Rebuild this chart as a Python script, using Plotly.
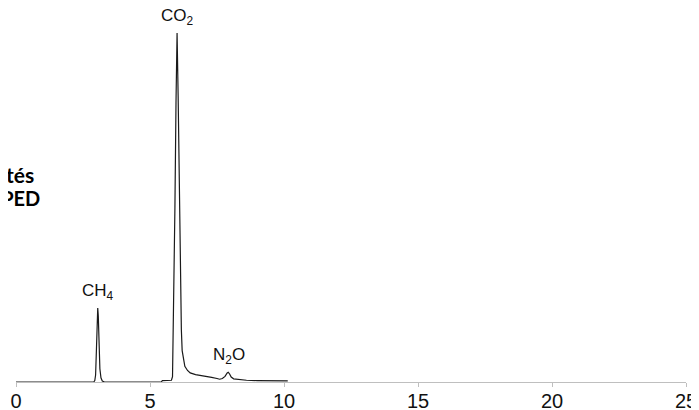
import plotly.graph_objects as go

# Chromatogram (time in min, intensity in arbitrary units, CO2 peak = 1000)
time_min = [0.0, 2.90, 2.94, 2.97, 3.00, 3.03, 3.05, 3.07, 3.10, 3.13, 3.17, 3.22, 3.30,
            5.42, 5.46, 5.80, 5.84, 5.88, 5.93, 5.97, 6.01, 6.05, 6.09, 6.13, 6.17, 6.20,
            6.25, 6.30, 6.40, 6.50, 6.70, 6.90, 7.10, 7.30, 7.50, 7.60, 7.70, 7.80, 7.88,
            7.92, 7.97, 8.03, 8.12, 8.30, 8.60, 9.00, 9.50, 10.14]
intensity = [0, 0, 4, 20, 90, 190, 212, 190, 95, 38, 12, 3, 0,
             0, 4, 5, 15, 200, 500, 800, 1000, 820, 560, 330, 150, 90,
             62, 45, 33, 26, 21, 19, 16, 13, 10, 8, 10, 16, 26,
             28, 23, 14, 9, 7, 5, 4, 3, 3]

peak_names = ["CH<sub>4</sub>", "CO<sub>2</sub>", "N<sub>2</sub>O"]
peak_times = [3.05, 6.01, 7.95]
peak_heights = [212, 1000, 28]

x_ticks = [0, 5, 10, 15, 20, 25]
y_label_lines = ["Intensités", "DPED"]

# page body adds an 8px offset; the plot area spans screen x 16..686, y 8..382
PLOT_H = 374.0
PLOT_W = 670.0

fig = go.Figure()
fig.add_trace(go.Scatter(x=time_min, y=intensity, mode="lines",
                         line=dict(color="#1a1a1a", width=1.2),
                         hoverinfo="skip", showlegend=False))

for name, t, h in zip(peak_names, peak_times, peak_heights):
    fig.add_annotation(x=t, y=h, text=name, showarrow=False,
                       yanchor="bottom", yshift=3,
                       font=dict(family="Liberation Sans, Arial", size=17, color="#111111"))

label_x = [36, 42]
label_y = [174, 198]
label_size = [21, 20]
for txt, lx, ly, fs in zip(y_label_lines, label_x, label_y, label_size):
    fig.add_annotation(xref="paper", yref="paper",
                       x=(lx - 16) / PLOT_W, y=(382 - ly) / PLOT_H,
                       text="<b>" + txt + "</b>", showarrow=False,
                       xanchor="right", yanchor="middle",
                       font=dict(family="Lato, Carlito, Open Sans", size=fs, color="#000000"))

fig.update_layout(
    width=699, height=410,
    margin=dict(l=8, r=21, t=0, b=36, pad=0),
    paper_bgcolor="white", plot_bgcolor="white",
    xaxis=dict(range=[0, 25], tickvals=x_ticks, ticktext=[str(v) for v in x_ticks],
               showgrid=False, zeroline=False, showline=True, linecolor="#bfbfbf",
               linewidth=1, ticks="outside", ticklen=4, tickcolor="#bfbfbf",
               ticklabelstandoff=-3,
               tickfont=dict(family="Liberation Sans, Arial", size=20, color="#111111")),
    yaxis=dict(range=[0, 1000 * PLOT_H / 349.0], visible=False, showgrid=False,
               zeroline=False),
)

fig.write_html("out.html")
